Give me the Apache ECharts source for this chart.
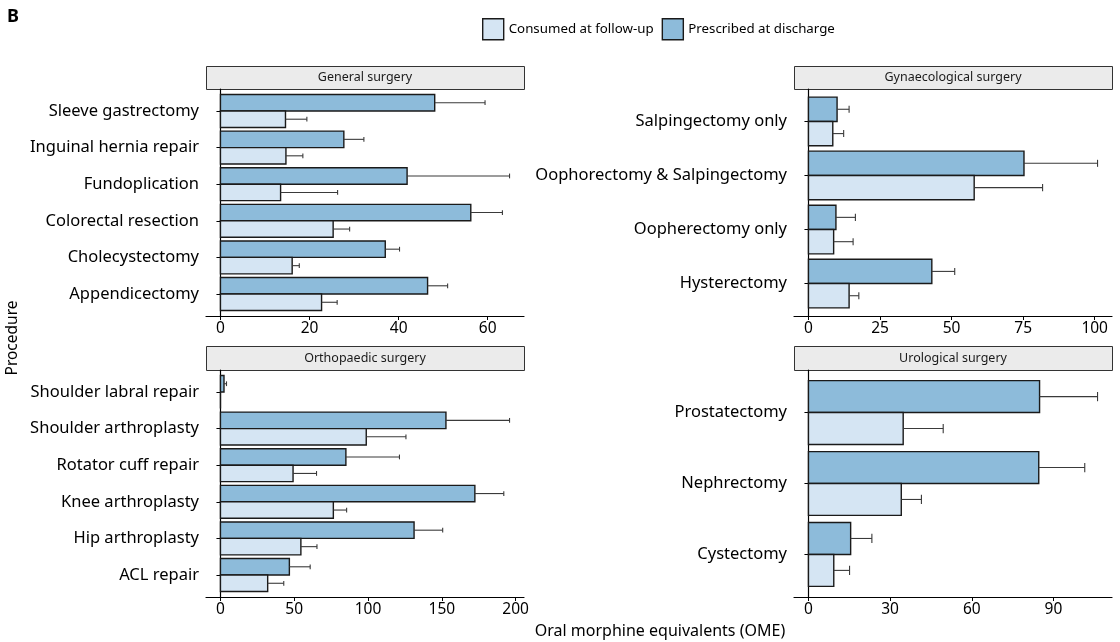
<!DOCTYPE html>
<html>
<head>
<meta charset="utf-8">
<script src="https://cdn.jsdelivr.net/npm/echarts@6/dist/echarts.min.js"></script>
<style>html,body{margin:0;padding:0;background:#fff}#c{width:1120px;height:642px}</style>
</head>
<body>
<div id="c"></div>
<script>
// ---- data (top to bottom within each panel) ----
const generalCats = ['Sleeve gastrectomy','Inguinal hernia repair','Fundoplication','Colorectal resection','Cholecystectomy','Appendicectomy'];
const generalPrescribed = [48.1, 27.7, 41.9, 56.2, 37.0, 46.5];
const generalPrescribedErr = [11.3, 4.5, 23.0, 7.1, 3.2, 4.5];
const generalConsumed = [14.6, 14.7, 13.5, 25.3, 16.1, 22.7];
const generalConsumedErr = [4.8, 3.8, 12.8, 3.7, 1.6, 3.5];
const generalTicks = [0, 20, 40, 60];

const gynCats = ['Salpingectomy only','Oophorectomy & Salpingectomy','Oopherectomy only','Hysterectomy'];
const gynPrescribed = [10.0, 75.3, 9.6, 43.1];
const gynPrescribedErr = [4.2, 25.7, 6.8, 8.0];
const gynConsumed = [8.5, 57.9, 8.8, 14.2];
const gynConsumedErr = [3.8, 23.9, 6.8, 3.4];
const gynTicks = [0, 25, 50, 75, 100];

const orthoCats = ['Shoulder labral repair','Shoulder arthroplasty','Rotator cuff repair','Knee arthroplasty','Hip arthroplasty','ACL repair'];
const orthoPrescribed = [2.4, 152.8, 85.0, 172.4, 131.2, 46.7];
const orthoPrescribedErr = [1.7, 43.1, 36.3, 19.6, 19.4, 14.1];
const orthoConsumed = [0, 98.8, 49.2, 76.5, 54.5, 32.0];
const orthoConsumedErr = [0, 26.9, 15.9, 9.0, 10.9, 10.9];
const orthoTicks = [0, 50, 100, 150, 200];

const uroCats = ['Prostatectomy','Nephrectomy','Cystectomy'];
const uroPrescribed = [84.9, 84.6, 15.5];
const uroPrescribedErr = [21.3, 16.9, 7.8];
const uroConsumed = [34.8, 34.1, 9.3];
const uroConsumedErr = [14.7, 7.4, 5.8];
const uroTicks = [0, 30, 60, 90];

const panelTitles = ['General surgery','Gynaecological surgery','Orthopaedic surgery','Urological surgery'];
const seriesNames = ['Consumed at follow-up','Prescribed at discharge'];

// ---- styling ----
const FONT = 'Noto Sans';
const COL_PRES = '#8dbbda';
const COL_CONS = '#d5e5f3';
const BORDER = '#1a1a1a';

const panels = [
  {cats: generalCats, pres: generalPrescribed, presErr: generalPrescribedErr, cons: generalConsumed, consErr: generalConsumedErr, ticks: generalTicks},
  {cats: gynCats, pres: gynPrescribed, presErr: gynPrescribedErr, cons: gynConsumed, consErr: gynConsumedErr, ticks: gynTicks},
  {cats: orthoCats, pres: orthoPrescribed, presErr: orthoPrescribedErr, cons: orthoConsumed, consErr: orthoConsumedErr, ticks: orthoTicks},
  {cats: uroCats, pres: uroPrescribed, presErr: uroPrescribedErr, cons: uroConsumed, consErr: uroConsumedErr, ticks: uroTicks}
];
const layout = [
  {left: 206, top: 89, width: 318, height: 227, stripTop: 66},
  {left: 794, top: 89, width: 318, height: 227, stripTop: 66},
  {left: 206, top: 370, width: 318, height: 227, stripTop: 346},
  {left: 794, top: 370, width: 318, height: 227, stripTop: 346}
];

const HALF = 0.45; // each dodged bar is 0.45 of a category unit
const CAP = 0.065;

function makeRender(offset) {
  return function (params, api) {
    const v = api.value(0), y = api.value(1) + offset, e = api.value(2);
    const a = api.coord([0, y - HALF / 2]);
    const b = api.coord([v, y + HALF / 2]);
    const children = [{
      type: 'rect',
      shape: {x: a[0], y: Math.min(a[1], b[1]), width: b[0] - a[0], height: Math.abs(b[1] - a[1])},
      style: {fill: api.visual('color'), stroke: BORDER, lineWidth: 1.4}
    }];
    if (e > 0) {
      const p0 = api.coord([v, y]);
      const p1 = api.coord([v + e, y]);
      const c0 = api.coord([v + e, y - CAP]);
      const c1 = api.coord([v + e, y + CAP]);
      children.push({type: 'line', shape: {x1: p0[0], y1: p0[1], x2: p1[0], y2: p1[1]}, style: {stroke: '#3a3a3a', lineWidth: 1.1}});
      children.push({type: 'line', shape: {x1: c0[0], y1: c0[1], x2: c1[0], y2: c1[1]}, style: {stroke: '#3a3a3a', lineWidth: 1.1}});
    }
    return {type: 'group', children};
  };
}

const grid = [], xAxis = [], yAxis = [], series = [], graphics = [];
panels.forEach((p, i) => {
  const L = layout[i];
  grid.push({left: L.left, top: L.top, width: L.width, height: L.height, containLabel: false});
  let M = 0;
  p.cats.forEach((c, k) => {
    M = Math.max(M, p.pres[k] + p.presErr[k], p.cons[k] + p.consErr[k]);
  });
  xAxis.push({
    type: 'value', gridIndex: i, min: -0.05 * M, max: 1.05 * M,
    axisLine: {show: true, lineStyle: {color: '#000', width: 1.2}},
    axisTick: {show: true, length: 4, lineStyle: {color: '#000'}, customValues: p.ticks},
    axisLabel: {customValues: p.ticks, color: '#000', fontSize: 15.5, fontFamily: FONT, margin: 5, formatter: v => String(v)},
    splitLine: {show: false}
  });
  const idx = p.cats.map((c, k) => k + 1);
  yAxis.push({
    type: 'value', gridIndex: i, inverse: true, min: 0.4, max: p.cats.length + 0.6,
    axisLine: {show: true, lineStyle: {color: '#000', width: 1.2}},
    axisTick: {show: true, length: 4, lineStyle: {color: '#000'}, customValues: idx},
    axisLabel: {customValues: idx, color: '#000', fontSize: 16.5, fontFamily: FONT, margin: 7,
      formatter: v => p.cats[Math.round(v) - 1] || ''},
    splitLine: {show: false}
  });
  series.push({
    type: 'custom', name: seriesNames[1], xAxisIndex: i, yAxisIndex: i,
    itemStyle: {color: COL_PRES, borderColor: BORDER, borderWidth: 1.4},
    renderItem: makeRender(-HALF / 2),
    encode: {x: 0, y: 1},
    data: p.cats.map((c, k) => [p.pres[k], k + 1, p.presErr[k]])
  });
  series.push({
    type: 'custom', name: seriesNames[0], xAxisIndex: i, yAxisIndex: i,
    itemStyle: {color: COL_CONS, borderColor: BORDER, borderWidth: 1.4},
    renderItem: makeRender(HALF / 2),
    encode: {x: 0, y: 1},
    data: p.cats.map((c, k) => [p.cons[k], k + 1, p.consErr[k]])
  });
  graphics.push({
    type: 'rect', left: L.left, top: L.stripTop,
    shape: {width: L.width, height: L.top - L.stripTop},
    style: {fill: '#ebebeb', stroke: '#333', lineWidth: 1}
  });
  graphics.push({
    type: 'text', x: L.left + L.width / 2, y: (L.stripTop + L.top) / 2,
    style: {text: panelTitles[i], fill: '#1a1a1a', font: '12.5px "' + FONT + '"', textAlign: 'center', textVerticalAlign: 'middle'}
  });
});

graphics.push({type: 'text', x: 7, y: 17, style: {text: 'B', fill: '#000', font: 'bold 18px "' + FONT + '"', textAlign: 'left', textVerticalAlign: 'middle'}});
graphics.push({type: 'text', x: 660, y: 631, style: {text: 'Oral morphine equivalents (OME)', fill: '#000', font: '16px "' + FONT + '"', textAlign: 'center', textVerticalAlign: 'middle'}});
graphics.push({type: 'text', x: 13, y: 338, rotation: Math.PI / 2, style: {text: 'Procedure', fill: '#000', font: '15.5px "' + FONT + '"', textAlign: 'center', textVerticalAlign: 'middle'}});

const chart = echarts.init(document.getElementById('c'), null, {renderer: 'canvas'});
chart.setOption({
  animation: false,
  backgroundColor: '#fff',
  legend: {
    data: seriesNames, left: 477, top: 13, itemWidth: 21, itemHeight: 21, itemGap: 8,
    icon: 'rect',
    itemStyle: {borderColor: BORDER, borderWidth: 1.4},
    textStyle: {fontSize: 13.3, fontFamily: FONT, color: '#000'}
  },
  grid, xAxis, yAxis, series,
  graphic: graphics
});
</script>
</body>
</html>
